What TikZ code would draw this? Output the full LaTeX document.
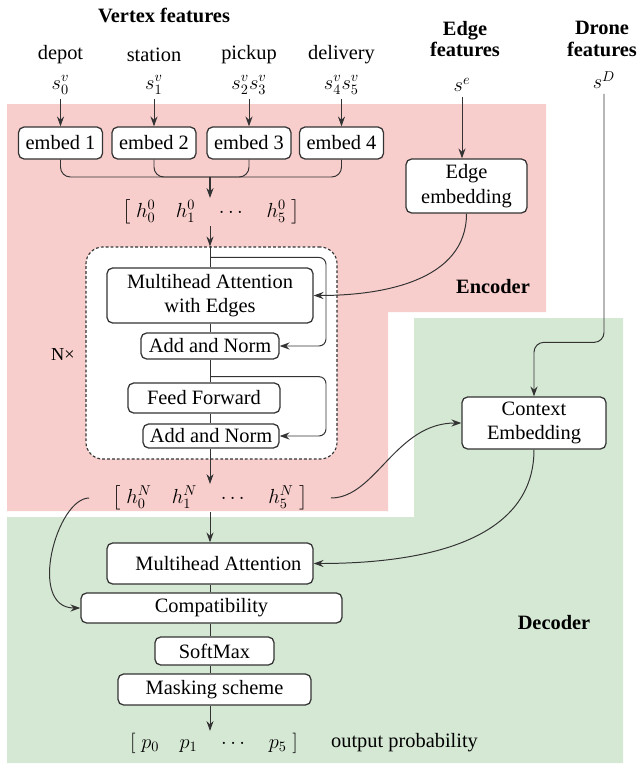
\RequirePackage{fix-cm}
\documentclass[tikz,border=0pt]{standalone}
\usepackage{amsmath}
\usepackage{fontspec}
\setmainfont{Liberation Serif}
\usetikzlibrary{positioning, arrows.meta, calc}
\definecolor{encfill}{HTML}{F8CECC}
\definecolor{decfill}{HTML}{D5E8D4}
\definecolor{linegray}{HTML}{333333}

\begin{document}
\begin{tikzpicture}[
    x=0.025cm, y=-0.025cm,
    font=\fontsize{14.5}{17.5}\selectfont,
    line width=0.7pt, draw=linegray,
    >={Stealth[length=7pt, width=5pt]},
    box/.style={draw=linegray, line width=0.9pt, rectangle, rounded corners=4pt, fill=white, align=center, inner sep=0pt},
    layerbox/.style={draw=linegray, line width=0.8pt, dash pattern=on 2pt off 1.5pt, rounded corners=12pt, fill=white, inner sep=0pt},
    tag/.style={font=\fontsize{14.5}{15.5}\selectfont\bfseries, align=center},
    vec/.style={inner sep=1pt}
]
    \useasboundingbox (0,0) rectangle (642,771);

    % Encoder and decoder regions
    \fill[encfill] (7,104) -- (546,104) -- (546,312) -- (388,312) -- (388,511) -- (7,511) -- cycle;
    \fill[decfill] (414,318) -- (623,318) -- (623,763) -- (7,763) -- (7,517) -- (414,517) -- cycle;
    \coordinate (spine) at (210,0);

    % Input features
    \node[tag] (vtx) at (164,15) {Vertex features};
    \node (ldepot) at (60.5,55) {depot};
    \node (lstation) at (154,55) {station};
    \node (lpickup) at (249,55) {pickup};
    \node (ldelivery) at (341.5,55) {delivery};
    \node (sv0) at (60.5,85) {$s_0^v$};
    \node (sv1) at (154,85) {$s_1^v$};
    \node (sv23) at (249,85) {$s_2^v s_3^v$};
    \node (sv45) at (341.5,85) {$s_4^v s_5^v$};
    \node[tag] (edgelbl) at (465,39) {Edge\\features};
    \node (se) at (462,85) {$s^e$};
    \node[tag] (dronelbl) at (602,39) {Drone\\features};
    \node (sD) at (604,80) {$s^D$};

    % Embeddings
    \node[box, minimum width=2.1cm, minimum height=0.8cm] (emb1) at (60.5,143) {embed 1};
    \node[box, minimum width=2.1cm, minimum height=0.8cm] (emb2) at (154,143) {embed 2};
    \node[box, minimum width=2.1cm, minimum height=0.8cm] (emb3) at (249,143) {embed 3};
    \node[box, minimum width=2.1cm, minimum height=0.8cm] (emb4) at (341.5,143) {embed 4};
    \node[box, minimum width=3.025cm, minimum height=1.35cm] (edgeemb) at (466.5,186) {Edge\\embedding};
    \node[vec] (h0) at (211,212) {$\left[\;h_0^0\quad h_1^0\quad\cdots\quad h_5^0\;\right]$};

    % Encoder layer
    \node[layerbox, minimum width=6.275cm, minimum height=5.3cm] (layer) at (211.5,353) {};
    \node[font=\fontsize{13}{15}\selectfont] (nx) at (63,355) {N×};
    \node[box, minimum width=5.15cm, minimum height=1.375cm] (mha) at (210,295.5) {Multihead Attention\\with Edges};
    \node[box, minimum width=3.45cm, minimum height=0.65cm] (an1) at (210,346) {Add and Norm};
    \node[box, minimum width=3.8cm, minimum height=0.75cm] (ff) at (204,398) {Feed Forward};
    \node[box, minimum width=3.4cm, minimum height=0.6cm] (an2) at (211,436) {Add and Norm};
    \node[vec] (hN) at (210,498) {$\left[\;h_0^N\quad h_1^N\quad\cdots\quad h_5^N\;\right]$};
    \node[tag] (enclbl) at (493,287) {Encoder};

    % Decoder
    \node[box, minimum width=3.6cm, minimum height=1.3cm] (ctx) at (534,423) {Context\\Embedding};
    \node[box, minimum width=5.15cm, minimum height=1.025cm] (dmha) at (210,563.5) {\hspace{12pt}Multihead Attention};
    \node[box, minimum width=6.525cm, minimum height=0.75cm] (comp) at (211.5,608) {Compatibility};
    \node[box, minimum width=2.975cm, minimum height=0.7cm] (smax) at (214.5,651) {SoftMax};
    \node[box, minimum width=4.825cm, minimum height=0.775cm] (mask) at (214.5,689.5) {Masking scheme};
    \node[vec] (prow) at (214,743) {$\left[\;p_0\quad p_1\quad\cdots\quad p_5\;\right]$};
    \node[anchor=west] (outlbl) at (326,743) {output probability};
    \node[tag] (declbl) at (554,623) {Decoder};

    % Feature inputs
    \draw[->] (sv0) -- (emb1);
    \draw[->] (sv1) -- (emb2);
    \draw[->] (sv23) -- (emb3);
    \draw[->] (sv45) -- (emb4);
    \draw[->] (se) -- (se |- edgeemb.north);
    \draw[->, rounded corners=7pt] (sD.south) |- ($(ctx.north)+(0,-54)$) -- (ctx.north);

    % Merging the embeddings
    \coordinate (merge) at (210,177);
    \foreach \e in {emb1,emb2,emb3,emb4}
        \draw[rounded corners=7pt] (\e.south) |- (merge);
    \draw[->, line width=1.2pt] (merge) -- (h0.north -| merge);

    % Encoder flow
    \draw[->] (h0.south -| spine) -- (layer.north -| spine);
    \draw (layer.north -| spine) -- (mha.north -| spine);
    \foreach \a/\b in {mha/an1, an1/ff, ff/an2}
        \draw (\a.south -| spine) -- (\b.north -| spine);
    \draw[->] (an2.south -| spine) -- (hN.north -| spine);
    \draw[->, rounded corners=5pt] ($(layer.north -| spine)+(0,11)$) -- ++(116,0) |- (an1.east);
    \draw[->, rounded corners=5pt] ($(an1.south -| spine)+(0,17)$) -- ++(116,0) |- (an2.east);
    \draw[->] (edgeemb.south) to[out=-90, in=0] (mha.east);

    % Decoder flow
    \draw[->, shorten <=15pt] (hN.east) to[out=0, in=180] (ctx.west);
    \draw[->, shorten <=15pt] (hN.west) to[out=180, in=180, looseness=1.2] (comp.west);
    \draw[->] (hN.south -| spine) -- (dmha.north -| spine);
    \draw[->] (ctx.south) to[out=-90, in=0] (dmha.east);
    \foreach \a/\b in {dmha/comp, comp/smax, smax/mask}
        \draw (\a.south -| spine) -- (\b.north -| spine);
    \draw[->] (mask.south -| spine) -- (prow.north -| spine);

\end{tikzpicture}
\end{document}
